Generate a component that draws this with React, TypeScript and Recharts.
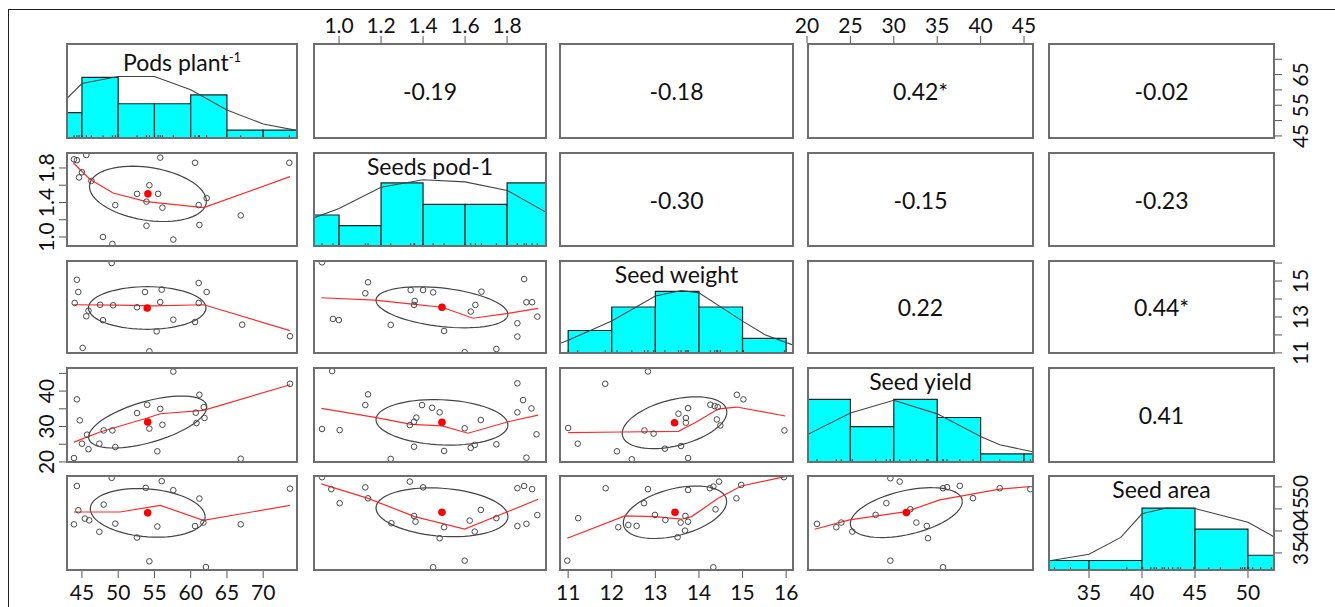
import { ComposedChart, XAxis, YAxis, Scatter, Line, ReferenceArea } from "recharts";

const FONT = "Lato, 'Open Sans', Arial, sans-serif";

type Pt = [number, number];

// ---- variables of the matrix ----
const titles = ["Pods plant", "Seeds pod-1", "Seed weight", "Seed yield", "Seed area"];

// upper triangle: correlation coefficients
const corrCells: [number, number, string][] = [
  [0, 1, "-0.19"], [0, 2, "-0.18"], [0, 3, "0.42*"], [0, 4, "-0.02"],
  [1, 2, "-0.30"], [1, 3, "-0.15"], [1, 4, "-0.23"],
  [2, 3, "0.22"], [2, 4, "0.44*"],
  [3, 4, "0.41"],
];

// ---- diagonal histograms ----
const podsEdges = [40, 45, 50, 55, 60, 65, 70, 75];
const podsCounts = [3, 7, 4, 4, 5, 1, 1];
const podsDensity: Pt[] = [[42.8, 4.5], [45, 6.3], [50, 7.1], [55, 7.1], [60, 5.6], [65, 3.3], [70, 1.7], [74.8, 0.95]];

const seedsPodEdges = [0.8, 1.0, 1.2, 1.4, 1.6, 1.8, 2.0];
const seedsPodCounts = [3, 2, 6, 4, 4, 6];
const seedsPodDensity: Pt[] = [[0.876, 2.7], [1.0, 3.6], [1.2, 5.6], [1.4, 6.3], [1.6, 6.1], [1.8, 5.3], [1.99, 3.2]];

const weightEdges = [11, 12, 13, 14, 15, 16];
const weightCounts = [3, 6, 8, 6, 2];
const weightDensity: Pt[] = [[10.79, 1.3], [11, 1.75], [12, 4.2], [13, 7.4], [13.6, 8.1], [14, 7.8], [15, 4.2], [15.5, 2.5], [16.18, 1.1]];

const yieldEdges = [20, 25, 30, 35, 40, 45, 50];
const yieldCounts = [7, 4, 7, 5, 1, 1];
const yieldDensity: Pt[] = [[20, 3.1], [25, 5.5], [30, 6.9], [35, 5.4], [40, 2.9], [42.2, 2.0], [46.15, 1.2]];

const areaEdges = [30, 35, 40, 45, 50, 55];
const areaCounts = [2, 2, 12, 8, 3];
const areaDensity: Pt[] = [[31.13, 1.9], [35, 3.2], [38, 6.4], [40, 10.9], [42.3, 12], [45, 11.9], [50, 9.3], [52.55, 6.4]];

// ---- lower triangle scatter panels (x = column variable, y = row variable) ----
// ell = [ux, uy, vx, vy]: semi-axis to the rightmost point, and vertical half-chord
const ptsPodsSeedsPod: Pt[] = [
  [43.9, 1.9], [44.3, 1.89], [45.6, 1.95], [55.8, 1.92], [60.6, 1.86], [73.6, 1.86], [45.0, 1.75], [44.6, 1.69],
  [46.3, 1.65], [54.3, 1.6], [52.6, 1.5], [55.5, 1.5], [53.9, 1.41], [49.6, 1.37], [56.1, 1.34], [62.2, 1.45],
  [61.1, 1.37], [53.9, 1.13], [61.2, 1.14], [66.9, 1.25], [47.9, 1.0], [49.2, 0.92], [57.6, 0.97],
];
const meanPodsSeedsPod: Pt = [54.1, 1.5];
const loessPodsSeedsPod: Pt[] = [[43.8, 1.86], [46.1, 1.67], [49.3, 1.51], [53.9, 1.41], [57.2, 1.38], [61.8, 1.34], [73.7, 1.7]];
const ellPodsSeedsPod = [8.06, -0.085, 0, 0.309];

const ptsPodsWeight: Pt[] = [
  [49.1, 16.0], [44.3, 15.07], [44.5, 14.39], [44.0, 13.78], [45.9, 13.35], [45.6, 13.04], [47.9, 12.82], [47.5, 13.68],
  [49.3, 13.65], [52.6, 13.54], [53.7, 14.39], [56.0, 14.52], [55.8, 13.83], [55.3, 12.2], [57.6, 12.85], [61.1, 14.89],
  [62.2, 14.39], [61.1, 13.78], [60.6, 12.72], [67.1, 12.57], [73.7, 11.93], [45.1, 11.28], [54.3, 11.09],
];
const meanPodsWeight: Pt = [54.0, 13.5];
const loessPodsWeight: Pt[] = [[43.8, 13.68], [50, 13.66], [55, 13.62], [61.8, 13.68], [73.7, 12.24]];
const ellPodsWeight = [8.1, 0, 0, 1.185];

const ptsPodsYield: Pt[] = [
  [57.6, 45.5], [73.7, 42.06], [44.3, 37.66], [61.2, 38.96], [44.7, 31.74], [54.0, 36.15], [52.6, 33.8], [55.8, 35.0],
  [61.8, 35.49], [60.7, 33.9], [56.1, 30.5], [61.9, 32.4], [60.8, 30.99], [54.3, 29.4], [48.0, 28.9], [49.2, 28.9],
  [45.7, 27.7], [45.0, 25.15], [45.9, 23.6], [47.4, 25.15], [49.6, 24.2], [55.4, 23.0], [43.9, 21.1], [66.9, 20.9],
];
const meanPodsYield: Pt = [54.07, 31.27];
const loessPodsYield: Pt[] = [[43.9, 25.6], [47.5, 28.45], [54.0, 32.4], [55.8, 33.6], [61.75, 34.55], [73.7, 41.8]];
const ellPodsYield = [8.15, 4.23, 0, 6.0];

const ptsPodsArea: Pt[] = [
  [49.1, 52.05], [44.3, 50.2], [56.0, 51.3], [57.6, 49.25], [53.8, 49.77], [48.0, 45.98], [61.2, 47.35], [73.7, 49.6],
  [44.5, 44.7], [43.9, 41.5], [45.4, 42.8], [46.0, 42.4], [47.4, 39.8], [49.6, 41.66], [52.6, 38.5], [55.4, 41.0],
  [60.6, 41.1], [61.75, 41.9], [66.9, 41.5], [54.3, 33.1], [62.1, 31.8],
];
const meanPodsArea: Pt = [54.07, 44.1];
const loessPodsArea: Pt[] = [[43.9, 44.3], [50.25, 44.3], [55.8, 45.8], [61.75, 42.4], [73.7, 45.8]];
const ellPodsArea = [7.92, -0.91, 0, 5.45];

const ptsSeedsPodWeight: Pt[] = [
  [0.919, 16.04], [1.138, 14.93], [1.125, 14.32], [0.971, 12.89], [0.999, 12.83], [1.246, 12.56], [1.341, 14.5], [1.4, 14.5],
  [1.448, 14.37], [1.36, 13.89], [1.357, 13.67], [1.678, 14.41], [1.649, 13.67], [1.627, 13.3], [1.5, 12.22], [1.598, 11.04],
  [1.749, 11.22], [1.881, 15.11], [1.892, 13.82], [1.919, 13.82], [1.944, 13.02], [1.849, 12.65], [1.849, 11.91],
];
const meanSeedsPodWeight: Pt = [1.49, 13.54];
const loessSeedsPodWeight: Pt[] = [[0.916, 14.07], [1.17, 13.94], [1.36, 13.7], [1.49, 13.54], [1.638, 12.93], [1.805, 13.2], [1.948, 13.48]];
const ellSeedsPodWeight = [0.314, -0.389, 0, 1.074];

const ptsSeedsPodYield: Pt[] = [
  [0.967, 45.63], [1.138, 39.07], [1.125, 36.06], [0.919, 29.3], [1.003, 29.0], [1.246, 20.85], [1.395, 36.06], [1.443, 35.3],
  [1.479, 34.0], [1.368, 32.5], [1.357, 31.35], [1.337, 30.4], [1.675, 31.83], [1.598, 29.5], [1.357, 24.3], [1.5, 23.1],
  [1.627, 24.0], [1.646, 24.8], [1.749, 24.98], [1.849, 42.2], [1.876, 37.46], [1.916, 35.1], [1.849, 34.0], [1.94, 27.8], [1.892, 21.2],
];
const meanSeedsPodYield: Pt = [1.49, 31.18];
const loessSeedsPodYield: Pt[] = [[0.916, 35.1], [1.178, 32.5], [1.344, 30.6], [1.49, 30.2], [1.614, 28.1], [1.805, 31.35], [1.948, 33.2]];
const ellSeedsPodYield = [0.314, -0.75, 0, 6.38];

const ptsSeedsPodArea: Pt[] = [
  [0.919, 52.2], [0.963, 49.48], [1.003, 46.3], [1.125, 49.9], [1.138, 47.4], [1.337, 51.2], [1.4, 49.9], [1.249, 41.75],
  [1.357, 43.4], [1.364, 42.1], [1.5, 40.84], [1.479, 38.34], [1.622, 42.34], [1.675, 44.77], [1.646, 39.84], [1.749, 42.9],
  [1.598, 33.25], [1.448, 31.75], [1.849, 49.7], [1.881, 50.2], [1.919, 49.48], [1.944, 43.6], [1.849, 41.1], [1.892, 41.6],
];
const meanSeedsPodArea: Pt = [1.49, 44.24];
const loessSeedsPodArea: Pt[] = [[0.916, 50.7], [1.138, 47.4], [1.36, 43.25], [1.598, 40.4], [1.805, 44.4], [1.948, 47.2]];
const ellSeedsPodArea = [0.314, -0.98, 0, 5.45];

const ptsWeightYield: Pt[] = [
  [12.83, 45.55], [11.85, 42.06], [11.0, 29.58], [11.22, 25.15], [12.12, 23.0], [12.46, 20.75], [12.75, 28.9], [12.96, 28.0],
  [13.22, 23.75], [13.59, 24.5], [13.75, 21.1], [13.53, 33.6], [13.75, 35.2], [13.7, 32.4], [13.7, 31.07], [14.26, 36.15],
  [14.36, 35.77], [14.43, 35.49], [14.41, 32.0], [14.49, 30.3], [14.87, 38.96], [15.02, 37.66], [15.96, 28.9],
];
const meanWeightYield: Pt = [13.44, 31.07];
const loessWeightYield: Pt[] = [[11.0, 28.25], [12.23, 28.45], [13.53, 28.65], [13.91, 31.07], [14.45, 35.0], [14.87, 35.5], [15.98, 32.96]];
const ellWeightYield = [1.2, 3.0, 0, 6.67];

const ptsWeightArea: Pt[] = [
  [10.98, 33.25], [11.23, 42.9], [11.86, 49.7], [12.83, 49.48], [12.74, 46.3], [12.15, 40.84], [12.38, 41.36], [12.57, 41.14],
  [12.99, 43.64], [13.23, 42.5], [13.75, 49.3], [13.69, 43.4], [13.58, 41.9], [13.75, 42.1], [13.68, 40.07], [13.51, 38.57],
  [14.25, 49.7], [14.33, 50.07], [14.46, 51.2], [14.38, 44.9], [14.86, 47.4], [14.97, 50.45], [15.95, 52.2], [14.33, 31.75],
];
const meanWeightArea: Pt = [13.45, 44.24];
const loessWeightArea: Pt[] = [[10.98, 38.34], [12.3, 43.4], [12.99, 43.25], [13.6, 42.66], [13.83, 43.25], [14.44, 47.4], [14.97, 50.2], [15.97, 52.34]];
const ellWeightArea = [1.185, 2.42, 0, 5.45];

const ptsYieldArea: Pt[] = [
  [29.6, 51.97], [30.68, 51.2], [35.67, 49.7], [36.13, 49.93], [37.6, 50.23], [39.12, 47.43], [42.2, 49.7], [45.73, 49.48],
  [29.14, 46.3], [27.9, 43.64], [31.9, 44.93], [32.6, 41.9], [33.8, 41.14], [33.94, 38.34], [21.15, 41.6], [23.38, 40.84],
  [23.95, 41.9], [25.22, 39.84], [29.6, 33.25], [35.67, 31.75],
];
const meanYieldArea: Pt = [31.44, 44.16];
const loessYieldArea: Pt[] = [[20.88, 40.38], [24.9, 42.5], [31.44, 44.4], [35.3, 47.05], [42.2, 49.48], [45.66, 50.07]];
const ellYieldArea = [6.45, 2.5, 0, 5.08];

// ---- axis ticks on the outer edges ----
type AxisSpec = { ticks: number[]; labels: number[]; digits: number };
const topAxes: Record<number, AxisSpec> = {
  1: { ticks: [1, 1.2, 1.4, 1.6, 1.8], labels: [1, 1.2, 1.4, 1.6, 1.8], digits: 1 },
  3: { ticks: [20, 25, 30, 35, 40, 45], labels: [20, 25, 30, 35, 40, 45], digits: 0 },
};
const bottomAxes: Record<number, AxisSpec> = {
  0: { ticks: [45, 50, 55, 60, 65, 70], labels: [45, 50, 55, 60, 65, 70], digits: 0 },
  2: { ticks: [11, 12, 13, 14, 15, 16], labels: [11, 12, 13, 14, 15, 16], digits: 0 },
  4: { ticks: [35, 40, 45, 50], labels: [35, 40, 45, 50], digits: 0 },
};
const leftAxes: Record<number, AxisSpec> = {
  1: { ticks: [1, 1.2, 1.4, 1.6, 1.8], labels: [1, 1.4, 1.8], digits: 1 },
  3: { ticks: [20, 25, 30, 35, 40, 45], labels: [20, 30, 40], digits: 0 },
};
const rightAxes: Record<number, AxisSpec> = {
  0: { ticks: [45, 50, 55, 60, 65, 70], labels: [45, 55, 65], digits: 0 },
  2: { ticks: [11, 12, 13, 14, 15, 16], labels: [11, 13, 15], digits: 0 },
  4: { ticks: [35, 40, 45, 50], labels: [35, 40, 45, 50], digits: 0 },
};

// layout of the 5x5 grid (page pixels)
const colBox: Pt[] = [[66, 298], [313, 547], [559, 794], [807, 1034], [1048, 1275]];
const rowBox: Pt[] = [[43, 139], [152, 247], [260, 354], [367, 463], [475, 571]];
const colDomain: Pt[] = [[42.8, 74.8], [0.876, 1.99], [10.79, 16.18], [20, 46.15], [31.13, 52.55]];
const rowDomain: Pt[] = [[44, 75.3], [0.884, 1.985], [10.94, 16.17], [19.7, 46.8], [30.9, 52.7]];

const toXY = (a: Pt[]) => a.map(([x, y]) => ({ x, y }));

// correlation ellipse from its centre and two conjugate semi-axes
const ellipse = (m: Pt, a: number[]) =>
  Array.from({ length: 73 }, (_, k) => {
    const t = (k / 72) * Math.PI * 2;
    return { x: m[0] + a[0] * Math.cos(t) + a[2] * Math.sin(t), y: m[1] + a[1] * Math.cos(t) + a[3] * Math.sin(t) };
  });

const Ring = (p: any) => <circle cx={p.cx} cy={p.cy} r={2.8} fill="none" stroke="#4a4a4a" strokeWidth={1} />;
const MeanDot = (p: any) => <circle cx={p.cx} cy={p.cy} r={3.8} fill="#ff0000" />;
const RugTick = (p: any) => <line x1={p.cx} x2={p.cx} y1={p.cy} y2={p.cy - 4} stroke="#333" strokeWidth={1} />;

function makeTick(side: string, spec: AxisSpec) {
  return (p: any) => {
    const v = p.payload.value;
    if (!spec.labels.some((l) => Math.abs(l - v) < 1e-6)) return <g />;
    const txt = v.toFixed(spec.digits);
    const st = { fontSize: 21, fontFamily: FONT, fill: "#111" };
    if (side === "top")
      return <text x={p.x} y={p.y} dy={-1} textAnchor="middle" {...st}>{txt}</text>;
    if (side === "bottom")
      return <text x={p.x} y={p.y} dy={20} textAnchor="middle" {...st}>{txt}</text>;
    const dy = side === "left" ? -3 : 24;
    return (
      <text x={p.x} y={p.y} dy={dy} transform={`rotate(-90 ${p.x} ${p.y})`} textAnchor="middle" {...st}>{txt}</text>
    );
  };
}

function Panel({ r, c, nMax = 1, children }: { r: number; c: number; nMax?: number; children?: any }) {
  const top = r === 0 ? topAxes[c] : undefined;
  const bottom = r === 4 ? bottomAxes[c] : undefined;
  const left = c === 0 ? leftAxes[r] : undefined;
  const right = c === 4 ? rightAxes[r] : undefined;
  const xa = top || bottom;
  const ya = left || right;
  const lw = left ? 60 : 0;
  const rw = right ? 60 : 0;
  const th = top ? 40 : 0;
  const bh = bottom ? 34 : 0;
  const [x0, x1] = colBox[c];
  const [y0, y1] = rowBox[r];
  return (
    <div style={{ position: "absolute", left: x0 - lw, top: y0 - th }}>
      <ComposedChart width={x1 - x0 + lw + rw} height={y1 - y0 + th + bh} margin={{ top: 0, right: 0, bottom: 0, left: 0 }}>
        <XAxis
          type="number"
          dataKey="x"
          domain={colDomain[c]}
          allowDataOverflow
          orientation={top ? "top" : "bottom"}
          hide={!xa}
          height={top ? 40 : 34}
          ticks={xa ? xa.ticks : undefined}
          interval={0}
          tickSize={7}
          axisLine={false}
          tickLine={{ stroke: "#555" }}
          tick={xa ? makeTick(top ? "top" : "bottom", xa) : false}
        />
        <YAxis
          yAxisId="v"
          type="number"
          dataKey="y"
          domain={rowDomain[r]}
          allowDataOverflow
          orientation={right ? "right" : "left"}
          hide={!ya}
          width={60}
          ticks={ya ? ya.ticks : undefined}
          interval={0}
          tickSize={7}
          axisLine={false}
          tickLine={{ stroke: "#555" }}
          tick={ya ? makeTick(right ? "right" : "left", ya) : false}
        />
        <YAxis yAxisId="n" type="number" dataKey="y" domain={[0, nMax]} allowDataOverflow hide width={0} orientation={left ? "right" : "left"} />
        {children}
      </ComposedChart>
    </div>
  );
}

const scatterPanels = [
  { r: 1, c: 0, pts: ptsPodsSeedsPod, mean: meanPodsSeedsPod, loess: loessPodsSeedsPod, ell: ellPodsSeedsPod },
  { r: 2, c: 0, pts: ptsPodsWeight, mean: meanPodsWeight, loess: loessPodsWeight, ell: ellPodsWeight },
  { r: 3, c: 0, pts: ptsPodsYield, mean: meanPodsYield, loess: loessPodsYield, ell: ellPodsYield },
  { r: 4, c: 0, pts: ptsPodsArea, mean: meanPodsArea, loess: loessPodsArea, ell: ellPodsArea },
  { r: 2, c: 1, pts: ptsSeedsPodWeight, mean: meanSeedsPodWeight, loess: loessSeedsPodWeight, ell: ellSeedsPodWeight },
  { r: 3, c: 1, pts: ptsSeedsPodYield, mean: meanSeedsPodYield, loess: loessSeedsPodYield, ell: ellSeedsPodYield },
  { r: 4, c: 1, pts: ptsSeedsPodArea, mean: meanSeedsPodArea, loess: loessSeedsPodArea, ell: ellSeedsPodArea },
  { r: 3, c: 2, pts: ptsWeightYield, mean: meanWeightYield, loess: loessWeightYield, ell: ellWeightYield },
  { r: 4, c: 2, pts: ptsWeightArea, mean: meanWeightArea, loess: loessWeightArea, ell: ellWeightArea },
  { r: 4, c: 3, pts: ptsYieldArea, mean: meanYieldArea, loess: loessYieldArea, ell: ellYieldArea },
];

const histPanels = [
  { i: 0, edges: podsEdges, counts: podsCounts, density: podsDensity, rug: ptsPodsSeedsPod.map((p) => p[0]), nMax: 10.9 },
  { i: 1, edges: seedsPodEdges, counts: seedsPodCounts, density: seedsPodDensity, rug: ptsSeedsPodWeight.map((p) => p[0]), nMax: 8.9 },
  { i: 2, edges: weightEdges, counts: weightCounts, density: weightDensity, rug: ptsWeightYield.map((p) => p[0]), nMax: 12.0 },
  { i: 3, edges: yieldEdges, counts: yieldCounts, density: yieldDensity, rug: ptsYieldArea.map((p) => p[0]), nMax: 10.55 },
  { i: 4, edges: areaEdges, counts: areaCounts, density: areaDensity, rug: ptsWeightArea.map((p) => p[1]), nMax: 18.3 },
];

export default function App() {
  const frames: Pt[] = [];
  for (let r = 0; r < 5; r++) for (let c = 0; c < 5; c++) frames.push([r, c]);

  return (
    <div style={{ position: "fixed", left: 0, top: 0, width: 1335, height: 607, overflow: "hidden", background: "#fff", fontFamily: FONT }}>
      <style>{`.recharts-surface{overflow:visible}`}</style>
      <div style={{ position: "absolute", left: 8, top: 9, width: 1340, height: 610, borderTop: "1.5px solid #222", borderLeft: "1.5px solid #222" }} />

      {scatterPanels.map((p) => (
        <Panel key={`s${p.r}${p.c}`} r={p.r} c={p.c}>
          <Line yAxisId="v" data={ellipse(p.mean, p.ell)} dataKey="y" stroke="#444" strokeWidth={1.2} dot={false} activeDot={false} isAnimationActive={false} />
          <Scatter yAxisId="v" data={toXY(p.pts)} shape={Ring} isAnimationActive={false} />
          <Line yAxisId="v" data={toXY(p.loess)} dataKey="y" stroke="#ff2a2a" strokeWidth={1.2} dot={false} activeDot={false} isAnimationActive={false} />
          <Scatter yAxisId="v" data={toXY([p.mean])} shape={MeanDot} isAnimationActive={false} />
        </Panel>
      ))}

      {histPanels.map((h) => (
        <Panel key={`h${h.i}`} r={h.i} c={h.i} nMax={h.nMax}>
          {h.counts.map((n, k) => (
            <ReferenceArea
              key={k}
              yAxisId="n"
              x1={h.edges[k]}
              x2={h.edges[k + 1]}
              y1={0}
              y2={n}
              fill="#00ffff"
              fillOpacity={1}
              stroke="#222"
              strokeWidth={1.2}
              ifOverflow="hidden"
            />
          ))}
          <Line yAxisId="n" data={toXY(h.density)} dataKey="y" stroke="#444" strokeWidth={1.1} dot={false} activeDot={false} isAnimationActive={false} />
          <Scatter yAxisId="n" data={h.rug.map((x) => ({ x, y: 0 }))} shape={RugTick} isAnimationActive={false} />
        </Panel>
      ))}

      {corrCells.map(([r, c]) => (
        <Panel key={`c${r}${c}`} r={r} c={c} />
      ))}

      {frames.map(([r, c]) => (
        <div
          key={`f${r}${c}`}
          style={{
            position: "absolute",
            left: colBox[c][0],
            top: rowBox[r][0],
            width: colBox[c][1] - colBox[c][0],
            height: rowBox[r][1] - rowBox[r][0],
            border: "2px solid #6e6e6e",
            boxSizing: "border-box",
          }}
        />
      ))}

      {corrCells.map(([r, c, t]) => (
        <div
          key={`t${r}${c}`}
          style={{
            position: "absolute",
            left: colBox[c][0],
            top: rowBox[r][0],
            width: colBox[c][1] - colBox[c][0],
            height: rowBox[r][1] - rowBox[r][0],
            display: "flex",
            alignItems: "center",
            justifyContent: "center",
            fontSize: 23,
            color: "#111",
          }}
        >
          {t}
        </div>
      ))}

      {titles.map((t, i) => (
        <div
          key={`n${i}`}
          style={{
            position: "absolute",
            left: colBox[i][0],
            top: rowBox[i][0] + 2,
            width: colBox[i][1] - colBox[i][0],
            textAlign: "center",
            fontSize: 23,
            lineHeight: "24px",
            color: "#111",
          }}
        >
          {t}
          {i === 0 && <sup style={{ fontSize: 13, verticalAlign: "9px" }}>-1</sup>}
        </div>
      ))}
    </div>
  );
}
